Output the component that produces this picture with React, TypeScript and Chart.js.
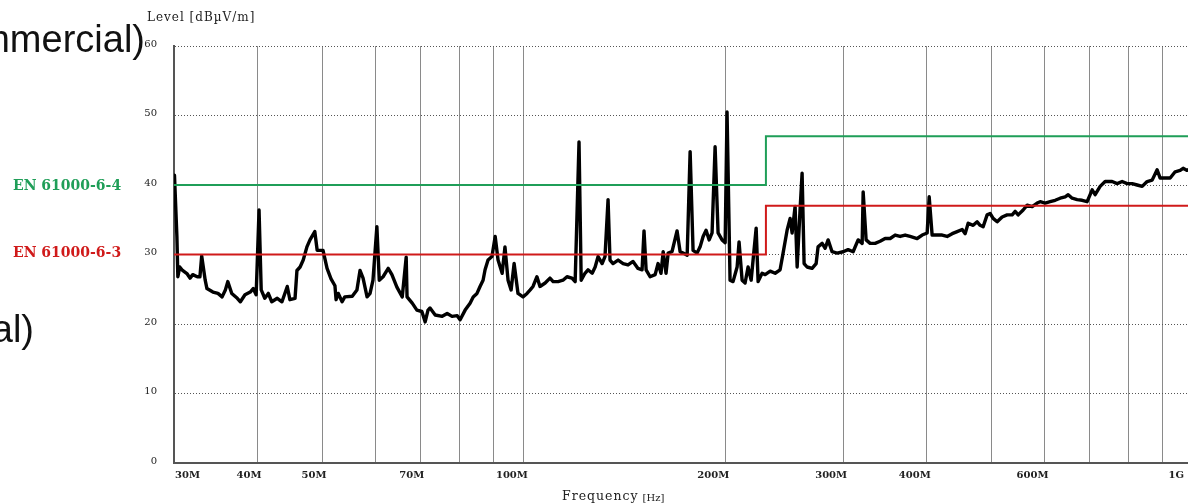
import React, { useEffect, useRef } from 'react';
import { Chart, registerables } from 'chart.js';

Chart.register(...registerables);

// Measured emission trace (frequency in MHz, level in dBµV/m)
const FREQ_MHZ = [
  30.05, 30.3, 30.4, 30.6, 30.9, 31.4, 31.7, 32.0, 32.5, 32.8, 33.0, 33.4, 33.6, 34.3, 34.9, 35.4, 35.8, 36.1, 36.6, 37.3,
  37.7, 38.3, 39.0, 39.4, 39.8, 40.2, 40.5, 41.0, 41.5, 42.0, 42.8, 43.5, 44.3, 44.7, 45.5, 45.8, 46.3, 46.8, 47.4, 47.9,
  48.7, 49.1, 50.1, 50.8, 51.5, 52.2, 52.4, 52.8, 53.5, 54.0, 55.4, 56.3, 56.9, 57.5, 58.3, 58.9, 59.5, 60.3, 60.8, 61.6,
  62.7, 63.5, 64.6, 65.8, 66.7, 66.9, 68.1, 69.2, 70.4, 71.2, 71.9, 72.4, 73.7, 75.5, 76.8, 78.1, 79.5, 80.3, 81.7, 83.1,
  84.0, 85.1, 86.0, 86.9, 87.5, 88.4, 89.6, 90.6, 91.5, 92.8, 93.7, 94.7, 95.7, 96.7, 98.0, 99.7, 101.1, 102.2, 103.2, 104.6,
  105.7, 107.6, 109.4, 110.6, 112.5, 114.4, 116.0, 118.0, 119.3, 120.9, 121.8, 123.4, 124.7, 126.5, 127.8, 129.1, 130.9, 132.2, 133.6, 134.5,
  135.9, 138.3, 140.7, 143.1, 145.6, 148.1, 150.2, 151.2, 152.3, 154.4, 157.1, 158.7, 160.3, 161.5, 163.1, 164.3, 166.5, 169.4, 171.2, 173.0,
  175.4, 177.2, 179.0, 181.5, 183.4, 185.3, 187.2, 189.2, 191.1, 193.1, 195.1, 197.8, 199.9, 201.2, 203.3, 205.4, 208.3, 209.7, 211.9, 214.1,
  216.3, 218.6, 222.4, 223.9, 227.0, 229.4, 233.4, 237.4, 241.5, 244.0, 247.4, 250.0, 251.7, 254.3, 256.1, 258.7, 260.5, 262.3, 265.0, 269.6,
  273.4, 275.2, 279.1, 282.0, 284.9, 288.8, 293.9, 300.0, 305.2, 310.5, 315.9, 320.3, 321.4, 324.7, 329.2, 334.9, 340.7, 346.6, 352.7, 358.8,
  365.0, 371.4, 377.8, 387.0, 393.8, 400.6, 403.4, 407.5, 414.6, 421.8, 429.1, 436.6, 444.2, 451.9, 456.6, 461.3, 469.3, 475.8, 480.7, 485.7,
  492.4, 497.5, 502.7, 509.7, 518.5, 527.5, 536.7, 542.3, 547.9, 557.4, 565.2, 575.0, 584.9, 591.0, 601.3, 611.7, 622.3, 633.1, 644.1, 650.8,
  659.8, 671.3, 682.9, 694.7, 706.8, 714.1, 726.5, 739.1, 757.1, 770.3, 783.6, 797.2, 811.1, 825.2, 839.5, 854.0, 868.9, 883.9, 893.1, 908.6,
  924.4, 940.4, 956.7, 966.6, 980.0, 1000,
];

const LEVEL_DB = [
  41.4, 32.6, 26.8, 28.2, 27.7, 27.2, 26.6, 27.1, 26.8, 26.8, 29.8, 26.3, 25.1, 24.6, 24.4, 23.9, 24.9, 26.1, 24.4, 23.7,
  23.2, 24.2, 24.6, 25.1, 24.2, 36.4, 24.9, 23.7, 24.4, 23.2, 23.7, 23.2, 25.4, 23.5, 23.7, 27.7, 28.2, 29.2, 31.1, 32.1,
  33.3, 30.6, 30.6, 28.0, 26.5, 25.5, 23.5, 24.4, 23.2, 23.9, 24.0, 24.9, 27.7, 26.6, 23.9, 24.4, 26.3, 34.0, 26.3, 26.8,
  28.0, 27.1, 25.3, 23.9, 29.6, 23.9, 23.0, 22.0, 21.8, 20.3, 22.0, 22.3, 21.3, 21.1, 21.5, 21.1, 21.2, 20.6, 22.0, 23.0,
  23.9, 24.4, 25.4, 26.3, 27.8, 29.2, 29.7, 32.6, 29.2, 27.3, 31.1, 26.3, 24.9, 28.7, 24.4, 23.9, 24.4, 24.9, 25.4, 26.8,
  25.4, 25.9, 26.6, 26.1, 26.1, 26.3, 26.8, 26.6, 26.1, 46.2, 26.3, 27.3, 27.8, 27.3, 28.2, 29.7, 28.7, 29.7, 37.9, 29.2,
  28.7, 29.2, 28.7, 28.5, 29.0, 28.0, 27.8, 33.4, 27.8, 26.8, 27.1, 28.7, 27.3, 30.4, 27.3, 30.2, 30.4, 33.4, 30.4, 30.2,
  29.9, 44.8, 30.6, 30.2, 31.1, 32.6, 33.5, 32.1, 33.1, 45.5, 33.1, 32.1, 31.7, 50.5, 26.3, 26.1, 28.2, 31.8, 26.3, 25.9,
  28.2, 26.3, 33.8, 26.1, 27.3, 27.1, 27.6, 27.3, 27.8, 30.2, 33.5, 35.2, 33.1, 36.9, 28.2, 36.5, 41.7, 28.7, 28.2, 28.0,
  28.7, 31.1, 31.6, 30.9, 32.1, 30.4, 30.2, 30.4, 30.7, 30.4, 32.1, 31.6, 39.0, 32.1, 31.6, 31.6, 31.9, 32.3, 32.3, 32.8,
  32.6, 32.8, 32.6, 32.3, 32.8, 33.1, 38.3, 32.8, 32.8, 32.8, 32.6, 33.0, 33.3, 33.6, 33.0, 34.5, 34.2, 34.7, 34.2, 34.0,
  35.7, 35.9, 35.2, 34.7, 35.4, 35.7, 35.7, 36.2, 35.7, 36.4, 37.1, 36.9, 37.4, 37.6, 37.4, 37.6, 37.8, 38.1, 38.3, 38.6,
  38.1, 37.9, 37.8, 37.6, 39.3, 38.6, 39.8, 40.5, 40.5, 40.2, 40.5, 40.2, 40.2, 40.0, 39.8, 40.5, 40.7, 42.2, 41.0, 41.0,
  41.0, 41.9, 42.1, 42.4, 42.1, 42.6,
];

// Limit lines (EN 61000-6-4 industrial, EN 61000-6-3 residential/commercial)
const LIMIT_64_FREQ = [30, 230, 230, 1000];
const LIMIT_64_LEVEL = [40, 40, 47, 47];
const LIMIT_63_FREQ = [30, 230, 230, 1000];
const LIMIT_63_LEVEL = [30, 30, 37, 37];

// Axis ticks
const X_GRID = [30, 40, 50, 60, 70, 80, 90, 100, 200, 300, 400, 500, 600, 700, 800, 900, 1000];
const X_LABEL_VALUES = [30, 40, 50, 70, 100, 200, 300, 400, 600, 1000];
const X_LABELS = ['30M', '40M', '50M', '70M', '100M', '200M', '300M', '400M', '600M', '1G'];
const Y_MIN = 0;
const Y_MAX = 60;
const Y_STEP = 10;

const GREEN = '#1f9e58';
const RED = '#d01a1a';

const toPoints = (xs: number[], ys: number[]) => xs.map((x, i) => ({ x, y: ys[i] }));

const textPlugin = {
  id: 'emcText',
  afterDraw(chart: any) {
    const ctx = chart.ctx as CanvasRenderingContext2D;
    const xs = chart.scales.x;
    const ys = chart.scales.y;
    ctx.save();
    // x tick labels
    ctx.font = 'bold 10px "DejaVu Serif"';
    ctx.fillStyle = '#222';
    ctx.textBaseline = 'middle';
    const labelY = xs.top + 12;
    X_LABEL_VALUES.forEach((v, i) => {
      const px = xs.getPixelForValue(v);
      if (i === 0) {
        ctx.textAlign = 'left';
        ctx.fillText(X_LABELS[i], px + 1, labelY);
      } else if (i === X_LABEL_VALUES.length - 1) {
        ctx.textAlign = 'right';
        ctx.fillText(X_LABELS[i], px - 9, labelY);
      } else {
        ctx.textAlign = 'right';
        ctx.fillText(X_LABELS[i], px + 4, labelY);
      }
    });
    // limit names
    ctx.font = 'bold 14px "DejaVu Serif"';
    ctx.textAlign = 'left';
    ctx.fillStyle = GREEN;
    ctx.fillText('EN 61000-6-4', 13, ys.getPixelForValue(LIMIT_64_LEVEL[0]) + 1);
    ctx.fillStyle = RED;
    ctx.fillText('EN 61000-6-3', 13, ys.getPixelForValue(LIMIT_63_LEVEL[0]) - 1);
    // axis titles
    ctx.fillStyle = '#222';
    (ctx as any).letterSpacing = '1px';
    ctx.font = '12px "DejaVu Serif"';
    ctx.fillText('Level [dBµV/m]', 147, 18);
    ctx.font = '12.5px "DejaVu Serif"';
    ctx.fillText('Frequency', 562, 497);
    const w = ctx.measureText('Frequency').width;
    (ctx as any).letterSpacing = '0px';
    ctx.font = '10px "DejaVu Serif"';
    ctx.fillText('[Hz]', 562 + w + 4, 498);
    ctx.restore();
  },
};

export default function App() {
  const canvasRef = useRef<HTMLCanvasElement | null>(null);

  useEffect(() => {
    if (!canvasRef.current) return;
    const chart = new Chart(canvasRef.current, {
      type: 'line',
      data: {
        datasets: [
          {
            label: 'EN 61000-6-4',
            data: toPoints(LIMIT_64_FREQ, LIMIT_64_LEVEL),
            borderColor: GREEN,
            borderWidth: 2,
            pointRadius: 0,
            order: 0,
          },
          {
            label: 'EN 61000-6-3',
            data: toPoints(LIMIT_63_FREQ, LIMIT_63_LEVEL),
            borderColor: RED,
            borderWidth: 2,
            pointRadius: 0,
            order: 1,
          },
          {
            label: 'Level',
            data: toPoints(FREQ_MHZ, LEVEL_DB),
            borderColor: '#000',
            borderWidth: 3.4,
            pointRadius: 0,
            borderJoinStyle: 'round',
            borderCapStyle: 'round',
            order: 2,
          },
        ],
      },
      options: {
        responsive: false,
        animation: false,
        events: [],
        layout: { padding: { left: 0, right: 7, top: 46, bottom: 0 } },
        plugins: { legend: { display: false }, tooltip: { enabled: false } },
        scales: {
          x: {
            type: 'logarithmic',
            min: 30,
            max: 1000,
            afterBuildTicks: (s: any) => {
              s.ticks = X_GRID.map((v) => ({ value: v }));
            },
            afterFit: (s: any) => {
              s.height = 41;
            },
            ticks: { display: false },
            grid: { color: '#8a8a8a', lineWidth: 1, drawTicks: false },
            border: { color: '#555', width: 2 },
          },
          y: {
            type: 'linear',
            min: Y_MIN,
            max: Y_MAX,
            afterFit: (s: any) => {
              s.width = 174;
            },
            ticks: {
              stepSize: Y_STEP,
              padding: 17,
              labelOffset: -2,
              color: '#222',
              font: { family: '"DejaVu Serif"', size: 10 },
            },
            grid: { color: '#555', lineWidth: 1, drawTicks: false },
            border: { color: '#555', width: 2, dash: [1, 2] },
          },
        },
      },
      plugins: [textPlugin],
    } as any);
    return () => chart.destroy();
  }, []);

  const bigText: React.CSSProperties = {
    position: 'absolute',
    fontFamily: '"Liberation Sans", Arial, sans-serif',
    fontSize: 38,
    lineHeight: '38px',
    whiteSpace: 'nowrap',
    color: '#111',
  };

  return (
    <div
      style={{
        position: 'fixed',
        left: 0,
        top: 0,
        width: 1188,
        height: 504,
        overflow: 'hidden',
        background: '#fff',
      }}
    >
      <canvas
        ref={canvasRef}
        width={1200}
        height={504}
        style={{ position: 'absolute', left: 0, top: 0, width: 1200, height: 504 }}
      />
      <div style={{ ...bigText, right: 1188 - 145, top: 20 }}>Commercial)</div>
      <div style={{ ...bigText, right: 1188 - 34, top: 310 }}>Industrial)</div>
    </div>
  );
}
